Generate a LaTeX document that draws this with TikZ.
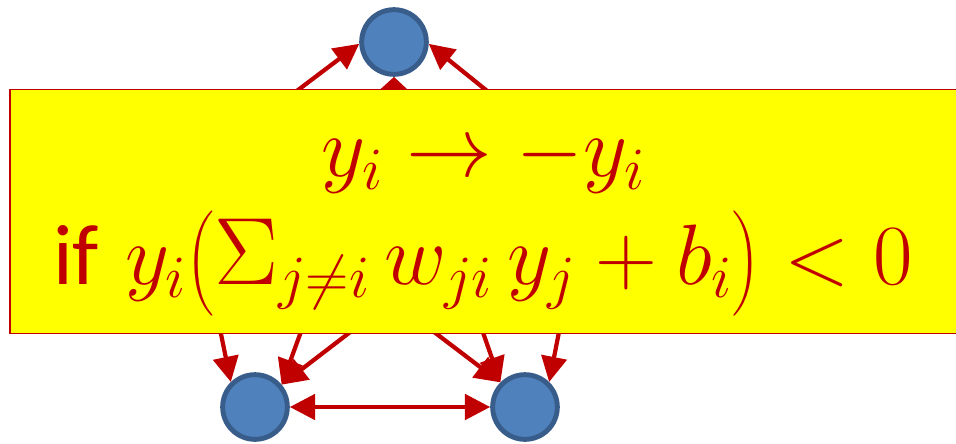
\documentclass[tikz,border=0pt]{standalone}
\usepackage{fix-cm}
\usepackage{amsmath}
\usepackage[no-math]{fontspec}
\usepackage{tikz}
\usetikzlibrary{arrows.meta,positioning}
\newfontfamily\wordfont{Carlito}
\definecolor{hopRed}{RGB}{192,0,0}
\definecolor{hopBlue}{RGB}{79,129,189}
\definecolor{hopBlueDark}{RGB}{56,93,138}
\definecolor{hopYellow}{RGB}{255,255,0}

\begin{document}
\begin{tikzpicture}[x=0.025cm, y=-0.025cm,
  unit/.style={circle, fill=hopBlue, draw=hopBlueDark, line width=3.5pt, minimum size=46pt, inner sep=0pt},
  link/.style={hopRed, line width=3pt, -{Triangle[length=18pt,width=18pt]}},
  twolink/.style={link, {Triangle[length=18pt,width=18pt]}-{Triangle[length=18pt,width=18pt]}},
  rule/.style={fill=hopYellow, draw=hopRed, line width=1pt, inner sep=0pt, minimum width=24cm, minimum height=6.1cm},
  formula/.style={text=hopRed, align=center, inner sep=0pt, font=\fontsize{61}{77}\selectfont}]
\useasboundingbox (0,0) rectangle (956,443);

\node[unit] (top) at (394,42) {};
\node[unit] (lft) at (255,407) {};
\node[unit] (rgt) at (525,407) {};
% units hidden behind the update rule
\coordinate (hl) at (188,173);
\coordinate (hr) at (590,174);
\coordinate (mid) at (392,300);

\draw[link] (hl) -- (top.183);
\draw[link] (hr) -- (top.357);
\draw[twolink] (lft.40) -- (top.south);
\draw[twolink] (rgt.135) -- (top.south);
\draw[link] (hl) -- (lft.134);
\draw[link] (hr) -- (rgt.46);
\draw[link] (mid) -- (lft.40);
\draw[link] (mid) -- (rgt.135);
\draw[twolink] (lft) -- (rgt);

\node[rule] (box) at (490,211.5) {};
\node[formula] (flip) at (483,221)
  {$y_i \rightarrow -y_i$\\
   {\wordfont if} $y_i\bigl(\mathop{\hbox{\fontsize{68}{68}\selectfont$\Sigma$}}\nolimits_{j\neq i} w_{ji}\,y_j + b_i\bigr) < 0$};
\end{tikzpicture}
\end{document}
